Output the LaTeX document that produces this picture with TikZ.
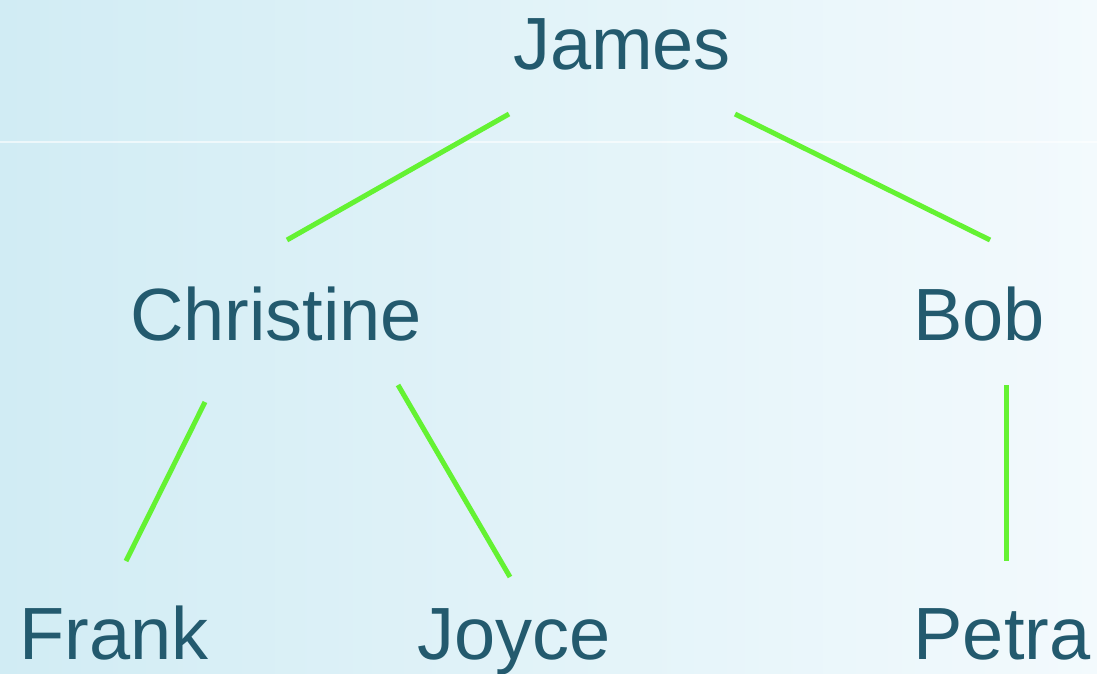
\documentclass[tikz,border=0pt]{standalone}
\usepackage{fontspec}
\setmainfont{Liberation Sans}
\usepackage{xcolor}
\usetikzlibrary{positioning,calc}
\definecolor{namecol}{RGB}{35,90,110}
\definecolor{linkcol}{RGB}{100,242,50}
\definecolor{bgleft}{RGB}{209,236,244}
\definecolor{bgright}{RGB}{243,250,253}

\begin{document}
\begin{tikzpicture}[x=0.5pt, y=-0.5pt]
        % Style definitions
        \tikzset{
            person/.style={inner sep=0pt, anchor=base, text=namecol, font=\fontsize{37}{40}\selectfont},
            link/.style={draw=linkcol, line width=2.5pt}
        }
        % Background
        \fill [left color=bgleft, right color=bgright] (0,0) rectangle (1097,674);
        \useasboundingbox (0,0) rectangle (1097,674);
        \draw [white, opacity=0.6, line width=0.6pt] (0,142) -- (1097,142);

        % Nodes
        \node [person] (james) at (622,70) {James};
        \node [person] (christine) at (276,340) {Christine};
        \node [person] (bob) at (979,340) {Bob};
        \node [person] (frank) at (114,659) {Frank};
        \node [person] (joyce) at (514,659) {Joyce};
        \node [person] (petra) at (1002,659) {Petra};

        % Link ends
        \coordinate (jc1) at (509,114);
        \coordinate (jc2) at (287,240);
        \coordinate (jb1) at (735,114);
        \coordinate (jb2) at (990,240);
        \coordinate (cf1) at (205,402);
        \coordinate (cf2) at (126,561);
        \coordinate (cj1) at (398,385);
        \coordinate (cj2) at (510,577);
        \coordinate (bp1) at (1006,385);
        \coordinate (bp2) at (1006,561);

        % Connections
        \draw [link] (jc1) -- (jc2);
        \draw [link] (jb1) -- (jb2);
        \draw [link] (cf1) -- (cf2);
        \draw [link] (cj1) -- (cj2);
        \draw [link] (bp1) -- (bp2);
    \end{tikzpicture}
\end{document}
